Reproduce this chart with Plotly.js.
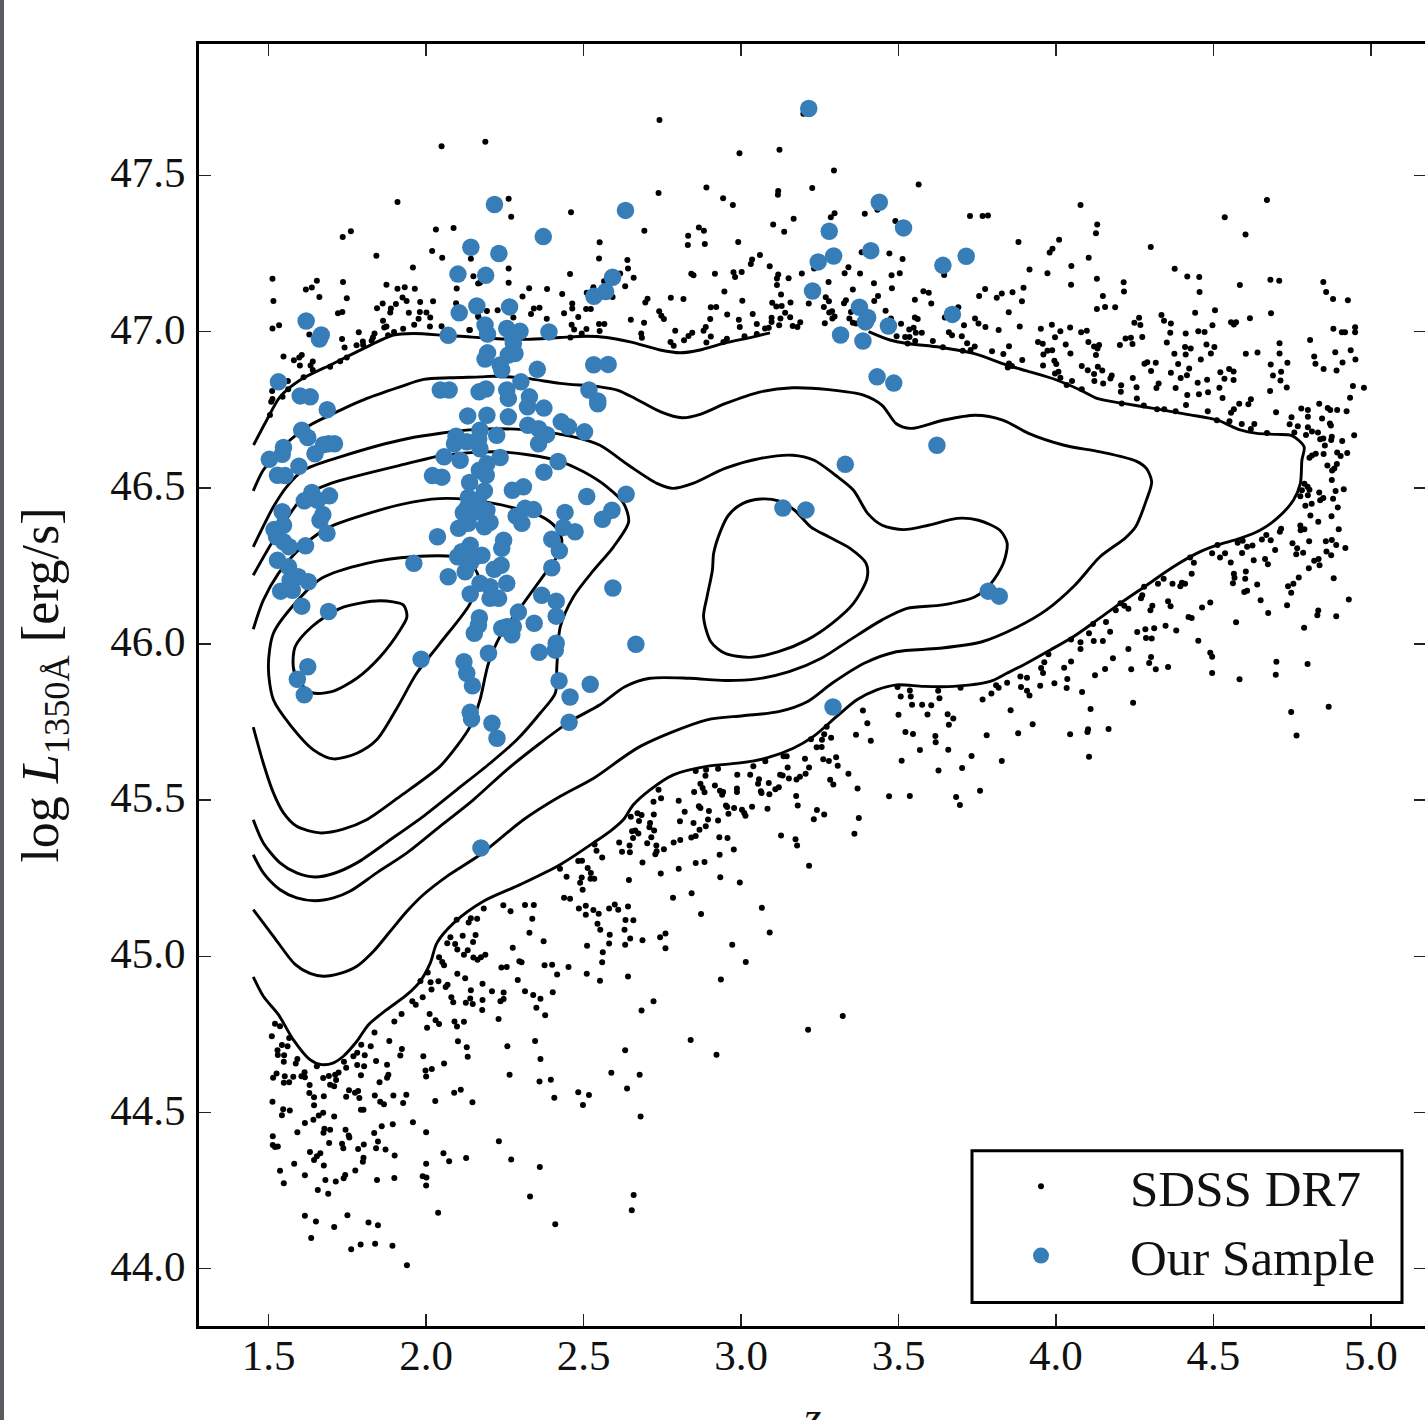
<!DOCTYPE html>
<html>
<head>
<meta charset="utf-8">
<script src="https://cdn.plot.ly/plotly-3.0.1.min.js"></script>
<style>
html,body{margin:0;padding:0;background:#fff;width:1425px;height:1420px;overflow:hidden}
#edge{position:fixed;left:0;top:0;width:4px;height:1420px;background:#585c60;z-index:5}
#chart{position:absolute;left:0;top:0}
</style>
</head>
<body>
<div id="edge"></div>
<div id="chart"></div>
<script>
const xTickValues=[1.5,2,2.5,3,3.5,4,4.5,5];
const yTickValues=[44,44.5,45,45.5,46,46.5,47,47.5];
const seriesNames=["SDSS DR7","Our Sample"];

const sdssLowLeft=[[1.520,44.784],[1.536,44.776],[1.510,44.744],[1.565,44.738],[1.542,44.716],[1.560,44.712],[1.528,44.699],[1.529,44.684],[1.549,44.683],[1.548,44.662],[1.591,44.671],[1.586,44.657],[1.653,44.648],[1.739,44.662],[1.746,44.643],[1.769,44.680],[1.781,44.691],[1.794,44.717],[1.824,44.712],[1.805,44.683],[1.781,44.652],[1.803,44.648],[1.793,44.619],[1.841,44.665],[1.876,44.653],[1.836,44.756],[1.883,44.729],[1.923,44.703],[1.918,44.682],[1.991,44.680],[2.057,44.657],[1.998,44.634],[2.018,44.639],[2.000,44.615],[1.880,44.621],[1.876,44.611],[1.852,44.597],[1.525,44.625],[1.514,44.611],[1.551,44.616],[1.548,44.595],[1.565,44.597],[1.578,44.614],[1.604,44.616],[1.614,44.629],[1.615,44.613],[1.630,44.588],[1.673,44.610],[1.691,44.617],[1.722,44.628],[1.711,44.621],[1.714,44.604],[1.695,44.589],[1.708,44.584],[1.629,44.562],[1.644,44.549],[1.675,44.552],[1.755,44.571],[1.746,44.550],[1.774,44.563],[1.784,44.569],[1.788,44.546],[1.837,44.554],[1.896,44.554],[1.937,44.557],[1.927,44.530],[1.854,44.534],[1.866,44.526],[2.029,44.537],[2.089,44.563],[2.110,44.573],[2.147,44.533],[1.512,44.534],[1.546,44.510],[1.567,44.506],[1.542,44.491],[1.644,44.523],[1.673,44.499],[1.659,44.490],[1.642,44.477],[1.615,44.466],[1.591,44.437],[1.708,44.487],[1.793,44.509],[1.801,44.509],[1.677,44.448],[1.674,44.435],[1.695,44.445],[1.744,44.445],[1.754,44.426],[1.756,44.420],[1.835,44.434],[1.859,44.456],[1.894,44.462],[1.958,44.469],[2.000,44.437],[1.513,44.424],[1.513,44.396],[1.520,44.389],[1.529,44.391],[1.692,44.402],[1.733,44.400],[1.737,44.385],[1.784,44.383],[1.802,44.397],[1.847,44.407],[1.841,44.385],[1.871,44.381],[1.900,44.362],[1.631,44.373],[1.664,44.369],[1.653,44.360],[1.644,44.348],[1.801,44.355],[1.799,44.342],[1.581,44.336],[1.675,44.330],[1.536,44.313],[1.615,44.299],[1.775,44.314],[1.743,44.300],[1.738,44.289],[1.680,44.284],[1.713,44.279],[1.548,44.273],[1.656,44.252],[1.689,44.240],[1.844,44.284],[1.899,44.290],[1.989,44.296],[2.001,44.292],[2.000,44.266],[2.000,44.336],[2.055,44.369],[2.073,44.344],[2.127,44.354],[2.231,44.408],[2.270,44.349],[2.361,44.325],[2.330,44.231],[2.410,44.142],[2.038,44.179],[2.659,44.236],[2.653,44.187],[2.681,44.487],[1.615,44.169],[1.650,44.151],[1.708,44.133],[1.750,44.171],[1.817,44.148],[1.847,44.139],[1.635,44.098],[1.762,44.062],[1.792,44.077],[1.838,44.080],[1.893,44.073],[1.939,44.011],[2.183,45.153],[2.097,45.117],[2.135,45.108],[2.142,45.122],[2.162,45.120],[2.245,45.163],[2.268,45.144],[2.314,45.164],[2.342,45.164],[2.337,45.120],[2.328,45.075],[2.373,45.048],[2.077,45.061],[2.116,45.066],[2.157,45.068],[2.149,45.046],[2.067,45.042],[2.092,45.039],[2.099,45.022],[2.132,45.019],[2.120,45.005],[2.150,44.996],[2.163,44.989],[2.174,44.997],[2.188,45.005],[2.275,45.027],[2.041,44.997],[2.051,44.982],[2.057,44.971],[2.296,44.984],[2.303,44.981],[2.239,44.964],[2.256,44.966],[2.376,44.971],[2.400,44.973],[2.416,44.942],[2.452,44.966],[2.099,44.944],[2.124,44.930],[2.005,44.948],[1.982,44.921],[2.014,44.917],[2.039,44.920],[2.068,44.909],[2.062,44.902],[2.017,44.894],[2.179,44.912],[2.291,44.924],[2.142,44.891],[2.209,44.888],[2.246,44.884],[2.314,44.888],[2.340,44.876],[2.363,44.864],[2.402,44.885],[1.989,44.869],[1.956,44.856],[1.967,44.845],[2.080,44.869],[2.086,44.853],[2.140,44.865],[2.126,44.851],[2.148,44.847],[2.179,44.860],[2.178,44.828],[2.246,44.863],[2.236,44.856],[2.350,44.835],[2.378,44.811],[2.230,44.799],[1.922,44.815],[1.899,44.791],[2.011,44.815],[2.030,44.795],[2.041,44.783],[2.003,44.771],[2.090,44.791],[2.098,44.775],[2.120,44.790],[2.101,44.728],[2.129,44.709],[2.132,44.678],[2.258,44.712],[2.346,44.729],[2.363,44.671],[2.265,44.621],[2.360,44.599],[2.396,44.605],[2.407,44.547],[2.483,44.565],[2.517,44.556],[2.498,44.524],[2.588,44.627],[2.638,44.577],[2.678,44.621],[2.632,44.699],[2.722,44.856],[2.684,44.826],[2.641,44.935],[2.552,44.922],[2.510,44.944],[2.559,44.981],[2.561,45.013],[2.511,45.034],[2.581,45.041],[2.632,45.037],[2.648,45.057],[2.687,45.051],[2.583,45.069],[2.553,45.085],[2.544,45.104],[2.630,45.085],[2.633,45.116],[2.658,45.115],[2.548,45.136],[2.507,45.133],[2.531,45.148],[2.507,45.162],[2.485,45.153],[2.581,45.153],[2.599,45.166],[2.610,45.149],[2.641,45.159]];

const sdssLowMiddle=[[2.446,45.255],[2.425,45.280],[2.483,45.305],[2.495,45.306],[2.513,45.283],[2.523,45.267],[2.494,45.252],[2.489,45.235],[2.522,45.248],[2.534,45.248],[2.497,45.213],[2.438,45.187],[2.457,45.184],[2.535,45.358],[2.541,45.338],[2.559,45.316],[2.613,45.364],[2.622,45.335],[2.646,45.355],[2.647,45.333],[2.687,45.300],[2.644,45.244],[2.650,45.447],[2.671,45.458],[2.684,45.452],[2.676,45.433],[2.654,45.400],[2.664,45.403],[2.674,45.393],[2.657,45.379],[2.711,45.427],[2.709,45.413],[2.724,45.403],[2.715,45.381],[2.702,45.362],[2.731,45.355],[2.732,45.336],[2.728,45.327],[2.755,45.343],[2.786,45.364],[2.807,45.372],[2.842,45.380],[2.856,45.385],[2.868,45.405],[2.888,45.416],[2.895,45.438],[2.849,45.427],[2.806,45.432],[2.723,45.454],[2.821,45.463],[2.802,45.498],[2.722,45.495],[2.746,45.506],[2.738,45.533],[2.851,45.526],[2.856,45.593],[2.889,45.597],[2.887,45.578],[2.927,45.600],[2.871,45.552],[2.878,45.539],[2.884,45.525],[2.917,45.547],[2.933,45.530],[2.943,45.526],[2.940,45.517],[2.988,45.581],[2.987,45.537],[2.987,45.526],[2.866,45.480],[2.871,45.475],[2.898,45.465],[2.927,45.435],[2.952,45.483],[2.956,45.478],[2.978,45.475],[2.960,45.456],[3.003,45.469],[3.010,45.459],[3.014,45.450],[3.035,45.479],[3.084,45.472],[2.931,45.381],[2.957,45.379],[2.977,45.342],[2.932,45.325],[2.884,45.302],[2.856,45.299],[2.802,45.280],[2.745,45.265],[2.934,45.253],[2.996,45.236],[2.843,45.202],[2.784,45.187],[2.873,45.135],[3.066,45.155],[3.091,45.076],[2.972,45.037],[3.015,44.982],[2.936,44.926],[2.840,44.732],[2.922,44.685],[3.213,44.765],[3.323,44.809],[3.039,45.608],[3.029,45.581],[3.057,45.567],[3.054,45.552],[3.088,45.555],[3.063,45.528],[3.065,45.523],[3.090,45.519],[3.109,45.535],[3.120,45.541],[3.077,45.624],[3.124,45.581],[3.132,45.579],[3.148,45.604],[3.152,45.569],[3.176,45.566],[3.187,45.575],[3.205,45.584],[3.216,45.604],[3.203,45.632],[3.135,45.640],[3.145,45.640],[3.175,45.513],[3.180,45.483],[3.241,45.468],[3.264,45.454],[3.231,45.439],[3.127,45.387],[3.173,45.375],[3.178,45.355],[3.216,45.290],[3.360,45.392],[3.374,45.443],[3.370,45.537],[3.341,45.584],[3.283,45.565],[3.293,45.550],[3.261,45.631],[3.279,45.625],[3.302,45.637],[3.307,45.610],[3.240,45.669],[3.256,45.670],[3.257,45.693],[3.286,45.700],[3.264,45.711],[3.222,45.695],[3.272,45.735],[3.365,45.709],[3.412,45.690],[3.401,45.746],[3.387,45.787],[3.497,45.862],[3.507,45.832],[3.536,45.851],[3.539,45.832],[3.543,45.805],[3.575,45.805],[3.604,45.804],[3.626,45.850],[3.630,45.826],[3.500,45.773],[3.592,45.774],[3.656,45.775],[3.674,45.761],[3.660,45.741],[3.522,45.718],[3.546,45.712],[3.617,45.705],[3.618,45.685],[3.568,45.660],[3.658,45.661],[3.510,45.626],[3.627,45.595],[3.732,45.641],[3.702,45.603],[3.828,45.625],[3.470,45.512],[3.536,45.513],[3.683,45.510],[3.695,45.484],[3.759,45.530],[3.780,45.708],[3.880,45.714],[3.926,45.743],[3.856,45.788],[3.767,45.822],[3.795,45.841],[3.810,45.868],[3.818,45.860],[3.845,45.876],[3.889,45.862],[3.908,45.850],[3.916,45.835],[3.697,45.860],[2.760,45.073],[2.743,45.061],[2.760,45.026]];

const sdssLowRight=[[4.789,46.513],[4.799,46.503],[4.805,46.494],[4.781,46.492],[4.776,46.473],[4.800,46.476],[4.836,46.485],[4.888,46.490],[4.914,46.495],[4.849,46.467],[4.839,46.460],[4.880,46.465],[4.792,46.442],[4.812,46.449],[4.895,46.437],[4.808,46.411],[4.833,46.391],[4.875,46.409],[4.776,46.379],[4.777,46.364],[4.789,46.367],[4.715,46.369],[4.711,46.359],[4.898,46.367],[4.668,46.349],[4.654,46.334],[4.682,46.332],[4.804,46.329],[4.857,46.329],[4.876,46.333],[4.890,46.317],[4.919,46.307],[4.751,46.322],[4.766,46.306],[4.763,46.287],[4.785,46.292],[4.696,46.301],[4.859,46.296],[4.874,46.284],[4.834,46.272],[4.820,46.266],[4.837,46.252],[4.803,46.242],[4.771,46.213],[4.882,46.210],[4.754,46.193],[4.737,46.185],[4.747,46.164],[4.734,46.124],[4.930,46.142],[4.833,46.107],[4.830,46.092],[4.890,46.089],[4.788,46.052],[4.700,45.943],[4.799,45.936],[4.698,45.901],[4.866,45.799],[4.747,45.782],[4.764,45.707],[4.583,45.887],[4.496,45.907],[4.496,45.959],[4.490,45.972],[4.572,46.069],[4.674,46.099],[4.650,46.140],[4.639,46.190],[4.598,46.166],[4.607,46.170],[4.562,46.194],[4.567,46.212],[4.565,46.225],[4.603,46.232],[4.601,46.209],[4.555,46.261],[4.628,46.268],[4.664,46.272],[4.673,46.255],[4.591,46.291],[4.607,46.311],[4.624,46.315],[4.577,46.324],[4.593,46.330],[4.537,46.290],[4.521,46.277],[4.496,46.290],[4.513,46.317],[4.438,46.260],[4.426,46.277],[4.431,46.225],[4.410,46.193],[4.400,46.196],[4.395,46.185],[4.370,46.193],[4.342,46.209],[4.324,46.193],[4.280,46.183],[4.274,46.156],[4.270,46.146],[4.356,46.137],[4.364,46.121],[4.306,46.122],[4.300,46.108],[4.490,46.133],[4.464,46.117],[4.421,46.086],[4.431,46.083],[4.382,46.043],[4.348,46.058],[4.312,46.050],[4.284,46.047],[4.258,46.038],[4.286,46.019],[4.304,46.017],[4.452,46.010],[4.230,45.984],[4.302,45.958],[4.296,45.939],[4.317,45.919],[4.356,45.926],[4.239,45.919],[4.205,46.130],[4.190,46.108],[4.217,46.122],[4.230,46.113],[4.159,46.070],[4.172,46.039],[4.118,46.064],[4.105,46.034],[4.048,46.014],[4.078,46.005],[4.120,46.009],[4.149,46.009],[4.078,45.984],[4.181,45.954],[4.156,45.920],[4.124,45.900],[4.048,45.944],[4.026,45.924],[3.976,45.967],[3.963,45.941],[3.953,45.923],[3.959,45.907],[3.887,45.896],[3.908,45.892],[4.036,45.888],[4.034,45.859],[3.995,45.874],[3.950,45.866],[4.083,45.846],[4.110,45.792],[4.245,45.812],[4.045,45.711],[4.100,45.718],[4.102,45.727],[4.167,45.728],[4.105,45.639]];

const sdssHighRight=[[4.670,47.421],[4.536,47.366],[4.602,47.311],[4.078,47.405],[4.131,47.343],[4.127,47.315],[4.010,47.294],[3.989,47.265],[3.980,47.253],[3.881,47.287],[3.727,47.370],[3.767,47.370],[3.784,47.372],[4.301,47.271],[4.104,47.236],[4.049,47.210],[3.916,47.199],[3.973,47.187],[3.645,47.181],[4.130,47.169],[4.048,47.150],[4.215,47.158],[4.216,47.128],[4.149,47.114],[4.377,47.201],[4.417,47.176],[4.455,47.175],[4.456,47.127],[4.584,47.149],[4.681,47.166],[4.709,47.163],[4.849,47.159],[4.858,47.127],[4.880,47.104],[4.927,47.100],[3.775,47.136],[3.756,47.114],[3.828,47.122],[3.812,47.108],[3.862,47.126],[3.897,47.140],[3.892,47.097],[3.850,47.062],[3.690,47.078],[3.647,47.045],[3.743,47.042],[3.754,47.026],[3.776,47.015],[3.708,47.020],[3.818,47.005],[3.885,47.016],[3.660,46.998],[3.670,46.988],[3.701,46.985],[3.718,46.963],[3.742,46.952],[3.641,46.950],[3.704,46.939],[3.729,46.941],[3.797,46.937],[3.833,46.928],[3.851,46.953],[3.893,46.909],[3.851,46.898],[3.860,46.890],[3.847,46.885],[3.952,47.009],[3.987,47.022],[4.014,47.001],[4.045,47.013],[3.997,46.982],[4.080,46.998],[4.098,47.003],[3.943,46.967],[3.958,46.961],[4.031,46.959],[4.103,46.967],[4.121,46.952],[4.137,46.957],[4.132,46.946],[4.046,46.930],[3.988,46.940],[3.973,46.939],[3.960,46.927],[4.127,46.925],[4.130,47.072],[4.156,47.079],[4.188,47.078],[4.203,46.957],[4.221,46.978],[4.238,46.980],[4.243,46.960],[4.274,46.983],[4.249,47.028],[4.268,47.021],[4.264,47.044],[4.335,47.053],[4.343,47.035],[4.365,47.026],[4.363,46.996],[4.352,46.965],[4.412,46.994],[4.452,47.001],[4.472,46.999],[4.442,47.060],[4.505,47.068],[4.497,47.020],[4.556,47.030],[4.565,47.023],[4.572,47.030],[4.616,47.043],[4.683,47.059],[4.881,47.009],[4.908,46.998],[4.918,46.998],[4.950,47.014],[4.950,46.998],[4.807,46.973],[4.710,46.963],[4.710,46.930],[4.640,46.933],[4.603,46.929],[4.478,46.959],[4.503,46.951],[4.410,46.951],[4.428,46.946],[4.412,46.927],[4.376,46.929],[4.492,46.930],[4.460,46.911],[4.388,46.896],[4.317,46.900],[4.290,46.902],[4.281,46.897],[4.302,46.874],[4.365,46.868],[4.423,46.882],[4.416,46.860],[4.396,46.851],[4.480,46.846],[4.450,46.836],[4.522,46.870],[4.550,46.880],[4.564,46.872],[4.535,46.849],[4.564,46.845],[4.519,46.820],[4.483,46.806],[4.454,46.799],[4.417,46.797],[4.380,46.819],[4.326,46.834],[4.319,46.819],[4.256,46.822],[4.244,46.851],[4.207,46.828],[4.206,46.807],[4.257,46.786],[4.209,46.770],[4.279,46.763],[4.321,46.751],[4.344,46.751],[4.380,46.745],[4.413,46.765],[4.529,46.787],[4.482,46.745],[4.511,46.716],[4.551,46.713],[4.556,46.740],[4.565,46.751],[4.582,46.769],[4.611,46.767],[4.619,46.783],[4.590,46.704],[4.630,46.704],[4.619,46.688],[4.670,46.675],[4.699,46.742],[4.680,46.810],[4.733,46.821],[4.713,46.843],[4.689,46.859],[4.715,46.871],[4.682,46.895],[4.735,46.900],[4.824,46.897],[4.820,46.920],[4.850,46.880],[4.891,46.875],[4.910,46.901],[4.951,46.911],[4.936,46.940],[4.887,46.934],[4.943,46.826],[4.978,46.820],[4.934,46.788],[4.836,46.769],[4.779,46.754],[4.800,46.749],[4.863,46.755],[4.871,46.749],[4.893,46.749],[4.923,46.745],[4.748,46.726],[4.800,46.727],[4.845,46.722],[4.742,46.703],[4.768,46.697],[4.800,46.694],[4.870,46.706],[4.873,46.699],[4.757,46.677],[4.794,46.669],[4.813,46.680],[4.832,46.677],[4.849,46.658],[4.839,46.655],[4.876,46.663],[4.874,46.653],[4.909,46.650],[4.947,46.668],[4.854,46.635],[4.805,46.596],[4.813,46.603],[4.825,46.609],[4.850,46.608],[4.893,46.613],[4.904,46.602],[4.925,46.611],[4.862,46.571],[4.892,46.576],[4.884,46.562],[4.877,46.555],[4.876,46.525],[4.121,46.864],[4.122,46.842],[4.150,46.834],[4.177,46.859],[4.173,46.850],[4.147,46.875],[4.133,46.887],[4.101,46.876],[4.082,46.890],[4.082,46.815],[4.051,46.842],[4.034,46.829],[4.014,46.852],[4.008,46.871],[3.997,46.866],[4.001,46.896],[3.995,46.907],[3.959,46.891]];

const sdssHighMiddle=[[2.741,47.677],[2.188,47.608],[2.995,47.571],[3.122,47.582],[3.198,47.697],[3.295,47.516],[3.564,47.471],[2.262,47.425],[2.270,47.368],[2.460,47.382],[2.738,47.444],[2.890,47.461],[2.943,47.427],[2.974,47.405],[3.118,47.450],[3.117,47.438],[3.226,47.460],[2.693,47.323],[2.832,47.307],[2.866,47.333],[2.882,47.323],[2.831,47.277],[2.885,47.280],[2.991,47.287],[3.102,47.343],[3.137,47.320],[3.167,47.361],[3.297,47.379],[3.285,47.366],[3.393,47.377],[3.433,47.390],[3.490,47.354],[2.551,47.286],[2.549,47.234],[2.639,47.229],[2.641,47.202],[2.659,47.172],[2.632,47.145],[2.142,47.233],[2.262,47.202],[2.457,47.184],[2.262,47.156],[2.150,47.177],[2.171,47.156],[2.327,47.139],[2.384,47.136],[2.306,47.112],[2.432,47.120],[2.531,47.142],[2.565,47.161],[2.616,47.186],[2.592,47.111],[2.849,47.180],[2.842,47.185],[2.917,47.185],[2.976,47.190],[2.981,47.175],[3.002,47.191],[3.031,47.216],[3.035,47.231],[3.060,47.245],[3.091,47.209],[3.118,47.183],[3.114,47.170],[3.114,47.149],[3.151,47.171],[3.193,47.186],[3.127,47.119],[2.947,47.128],[3.232,47.202],[3.278,47.159],[3.341,47.206],[3.329,47.187],[3.378,47.186],[3.383,47.254],[3.471,47.250],[3.513,47.232],[3.504,47.187],[3.478,47.180],[3.422,47.155],[3.479,47.139],[3.355,47.135],[3.579,47.129],[3.596,47.124],[3.435,47.114],[3.552,47.102],[3.604,47.090],[3.423,47.098],[3.269,47.110],[3.279,47.097],[3.333,47.100],[3.327,47.091],[3.215,47.090],[3.099,47.092],[3.112,47.080],[3.129,47.082],[3.157,47.093],[3.004,47.099],[2.904,47.078],[2.921,47.079],[2.777,47.108],[2.817,47.104],[2.703,47.105],[2.696,47.093],[2.740,47.065],[2.747,47.051],[2.755,47.040],[2.650,47.038],[2.692,47.028],[2.683,46.994],[2.685,46.980],[2.791,47.003],[2.902,47.040],[2.956,47.055],[2.993,47.038],[3.037,47.056],[2.996,47.015],[2.888,47.015],[2.881,47.003],[2.845,46.996],[2.833,46.986],[2.819,46.972],[2.776,46.967],[2.786,46.955],[2.904,46.984],[2.890,46.965],[2.955,46.977],[2.944,46.967],[3.011,46.985],[3.050,46.992],[3.076,47.010],[3.088,47.012],[3.050,47.024],[3.097,47.044],[3.097,47.031],[3.125,47.042],[3.140,47.060],[3.121,47.020],[3.156,47.046],[3.164,47.018],[3.179,47.015],[3.188,47.030],[3.263,47.079],[3.280,47.061],[3.289,47.065],[3.297,47.048],[3.290,47.042],[3.266,47.027],[3.344,47.042],[3.355,47.028],[3.365,47.026],[3.349,47.063],[3.459,47.067],[3.476,47.042],[3.508,47.025],[3.552,47.045],[3.561,47.040],[3.534,47.007],[3.548,47.012],[3.555,46.996],[3.574,46.996],[3.494,46.985],[3.521,46.983],[3.535,46.983],[3.529,46.962],[3.553,46.970],[3.609,46.970],[2.494,46.994],[2.470,47.007],[2.462,47.022],[2.509,47.008],[2.551,47.002],[2.549,47.024],[2.566,47.024],[2.383,47.041],[2.483,47.047],[2.438,47.059],[2.464,47.090],[2.464,47.074],[2.508,47.072],[2.523,47.072],[2.360,47.076],[2.342,47.074],[2.333,47.056],[2.277,47.045],[2.227,47.068],[2.193,47.066],[2.166,47.047],[2.137,47.005],[2.458,46.981],[2.510,47.124]];

const sdssHighLeft=[[2.049,47.593],[1.909,47.415],[1.761,47.321],[1.735,47.303],[2.031,47.327],[2.087,47.332],[2.019,47.258],[1.842,47.243],[2.051,47.236],[1.958,47.205],[1.512,47.169],[1.653,47.163],[1.637,47.141],[1.618,47.135],[1.736,47.159],[1.661,47.111],[1.748,47.107],[1.515,47.098],[1.874,47.150],[1.909,47.137],[1.932,47.142],[1.964,47.137],[2.097,47.138],[1.925,47.109],[1.938,47.098],[1.904,47.088],[1.862,47.090],[1.844,47.075],[1.888,47.074],[1.886,47.061],[1.981,47.095],[2.022,47.097],[2.095,47.091],[1.945,47.060],[1.980,47.063],[2.001,47.061],[2.013,47.045],[1.976,47.041],[1.720,47.059],[1.734,47.063],[1.863,47.035],[1.962,47.022],[2.012,47.016],[2.049,47.017],[1.874,47.016],[1.867,47.013],[1.927,47.009],[1.898,46.999],[1.879,46.988],[2.139,47.005],[1.512,47.010],[1.533,47.020],[1.629,46.991],[1.786,46.998],[1.836,46.994],[1.733,46.976],[1.831,46.981],[1.827,46.971],[1.799,46.968],[1.779,46.956],[1.800,46.957],[1.741,46.949],[1.547,46.920],[1.605,46.925],[1.597,46.917],[1.580,46.908],[1.599,46.891],[1.640,46.904],[1.633,46.891],[1.640,46.877],[1.748,46.917],[1.727,46.905],[1.695,46.887],[1.611,46.854],[1.561,46.842],[1.511,46.810],[1.562,46.815],[1.544,46.791],[1.512,46.784],[1.508,46.775],[1.504,46.733],[2.165,47.050],[2.165,47.154]];

const sampleCentral=[[1.686,46.750],[1.605,46.684],[1.624,46.661],[1.547,46.629],[1.543,46.607],[1.502,46.591],[1.596,46.569],[1.647,46.609],[1.674,46.638],[1.690,46.641],[1.709,46.641],[1.528,46.540],[1.552,46.539],[1.637,46.485],[1.613,46.458],[1.655,46.460],[1.693,46.474],[1.672,46.414],[1.663,46.396],[1.685,46.354],[1.543,46.423],[1.547,46.380],[1.517,46.366],[1.525,46.343],[1.547,46.327],[1.565,46.311],[1.617,46.314],[1.528,46.268],[1.563,46.247],[1.594,46.215],[1.626,46.199],[1.568,46.204],[1.538,46.169],[1.575,46.172],[1.605,46.121],[1.690,46.104],[1.624,45.927],[1.591,45.887],[1.613,45.837],[1.961,46.258],[1.984,45.951],[2.036,46.343],[2.070,46.215],[2.132,46.730],[2.193,46.732],[2.261,46.727],[2.322,46.759],[2.374,46.755],[2.323,46.700],[2.429,46.711],[2.452,46.695],[2.545,46.769],[2.503,46.679],[2.095,46.665],[2.090,46.641],[2.129,46.647],[2.171,46.684],[2.167,46.657],[2.171,46.625],[2.224,46.668],[2.057,46.599],[2.108,46.588],[2.235,46.597],[2.193,46.577],[2.169,46.556],[2.191,46.540],[2.020,46.539],[2.050,46.534],[2.138,46.517],[2.185,46.490],[2.134,46.469],[2.166,46.460],[2.129,46.434],[2.193,46.428],[2.118,46.420],[2.161,46.423],[2.103,46.370],[2.134,46.386],[2.203,46.389],[2.185,46.375],[2.357,46.689],[2.383,46.670],[2.357,46.641],[2.419,46.584],[2.374,46.550],[2.274,46.492],[2.309,46.503],[2.510,46.472],[2.635,46.479],[2.590,46.428],[2.560,46.399],[2.441,46.421],[2.473,46.359],[2.436,46.373],[2.399,46.335],[2.423,46.298],[2.399,46.244],[2.314,46.434],[2.341,46.430],[2.286,46.409],[2.304,46.386],[2.246,46.332],[2.240,46.306],[2.238,46.252],[2.216,46.239],[2.100,46.279],[2.140,46.316],[2.113,46.295],[2.177,46.284],[2.156,46.279],[2.140,46.258],[2.124,46.231],[2.256,46.194],[2.171,46.194],[2.203,46.183],[2.140,46.160],[2.203,46.146],[2.230,46.146],[2.169,46.084],[2.166,46.060],[2.153,46.034],[2.367,46.156],[2.413,46.137],[2.413,46.089],[2.293,46.102],[2.343,46.066],[2.240,46.050],[2.256,46.055],[2.277,46.055],[2.272,46.029],[2.593,46.179],[2.666,45.999],[2.198,45.970],[2.359,45.973],[2.410,45.980],[2.413,46.002],[2.120,45.943],[2.129,45.906],[2.147,45.866],[2.422,45.882],[2.521,45.871],[2.457,45.830],[2.140,45.781],[2.144,45.760],[2.209,45.746],[2.225,45.698],[2.454,45.749]];

const sampleUpper=[[1.619,47.034],[1.667,46.989],[1.661,46.976],[1.531,46.839],[1.600,46.794],[1.632,46.791],[2.045,46.813],[2.073,46.813],[2.070,46.988],[2.105,47.060],[2.101,47.184],[2.142,47.270],[2.161,47.082],[3.215,47.714],[2.217,47.407],[2.633,47.388],[2.372,47.304],[2.231,47.250],[3.439,47.414],[3.516,47.332],[3.280,47.321],[3.294,47.242],[3.245,47.223],[3.412,47.259],[3.641,47.212],[3.227,47.130],[2.592,47.174],[2.570,47.128],[2.533,47.113],[2.189,47.180],[2.265,47.079],[2.187,47.021],[2.195,46.992],[2.256,47.010],[2.298,47.001],[2.390,46.999],[2.275,46.978],[2.277,46.962],[2.195,46.932],[2.187,46.912],[2.261,46.925],[2.282,46.930],[2.235,46.893],[2.240,46.877],[2.353,46.879],[2.532,46.894],[2.578,46.895],[2.301,46.839],[2.190,46.816],[2.168,46.807],[2.256,46.813],[2.261,46.786],[2.328,46.791],[2.517,46.813],[2.545,46.778],[3.316,46.989],[3.387,46.970],[3.376,47.078],[3.402,47.045],[3.395,47.031],[3.468,47.018],[3.432,46.855],[3.485,46.835],[3.622,46.636],[3.331,46.575]];

const sampleOutlying=[[3.133,46.435],[3.206,46.429],[3.785,46.169],[3.820,46.153],[3.292,45.798],[2.174,45.347],[3.671,47.055],[3.715,47.241]];

const contourOutermost=[[1.451,44.934],[1.483,44.872],[1.531,44.813],[1.578,44.733],[1.631,44.669],[1.668,44.653],[1.706,44.659],[1.737,44.680],[1.780,44.728],[1.817,44.781],[1.875,44.829],[1.939,44.877],[1.981,44.920],[2.013,44.978],[2.034,45.042],[2.087,45.106],[2.182,45.176],[2.30,45.23],[2.425,45.293],[2.531,45.363],[2.584,45.400],[2.626,45.437],[2.658,45.485],[2.711,45.533],[2.785,45.581],[2.891,45.608],[2.997,45.619],[3.082,45.635],[3.166,45.666],[3.230,45.704],[3.304,45.768],[3.368,45.821],[3.431,45.853],[3.495,45.869],[3.579,45.864],[3.675,45.864],[3.791,45.880],[3.844,45.906],[3.907,45.938],[3.981,45.980],[4.055,46.023],[4.130,46.076],[4.204,46.130],[4.288,46.188],[4.373,46.247],[4.447,46.290],[4.511,46.316],[4.585,46.338],[4.648,46.364],[4.701,46.401],[4.754,46.460],[4.776,46.513],[4.781,46.588],[4.788,46.631],[4.749,46.667],[4.701,46.671],[4.638,46.674],[4.585,46.685],[4.511,46.717],[4.416,46.735],[4.310,46.754],[4.214,46.770],[4.130,46.786],[4.077,46.813],[4.002,46.845],[3.907,46.874],[3.844,46.893],[3.738,46.930],[3.632,46.950],[3.527,46.962],[3.473,46.973],[3.405,47.000],[null,null],[3.092,46.996],[3.039,46.983],[2.944,46.962],[2.870,46.941],[2.806,46.932],[2.743,46.941],[2.648,46.967],[2.573,46.981],[2.510,46.985],[2.425,46.981],[2.319,46.975],[2.213,46.978],[2.108,46.985],[2.066,46.987],[1.960,46.994],[1.896,46.989],[1.812,46.951],[1.706,46.898],[1.600,46.845],[1.536,46.791],[1.494,46.717],[1.452,46.637]];

const contourSecond=[[1.451,45.149],[1.515,45.064],[1.584,44.974],[1.631,44.945],[1.674,44.936],[1.727,44.945],[1.780,44.968],[1.833,45.016],[1.886,45.080],[1.939,45.144],[1.991,45.197],[2.066,45.256],[2.171,45.325],[2.309,45.437],[2.426,45.512],[2.532,45.570],[2.680,45.672],[2.892,45.757],[3.006,45.770],[3.119,45.783],[3.210,45.815],[3.289,45.874],[3.391,45.938],[3.493,45.975],[3.629,45.986],[3.765,46.007],[3.879,46.055],[3.970,46.109],[4.060,46.188],[4.140,46.279],[4.219,46.338],[4.253,46.375],[4.287,46.460],[4.304,46.519],[4.287,46.562],[4.253,46.586],[4.140,46.615],[4.026,46.636],[3.913,46.674],[3.833,46.716],[3.743,46.732],[3.641,46.716],[3.539,46.690],[3.493,46.705],[3.448,46.764],[3.391,46.796],[3.278,46.814],[3.164,46.820],[3.062,46.807],[2.949,46.769],[2.870,46.735],[2.813,46.724],[2.745,46.743],[2.665,46.785],[2.609,46.812],[2.552,46.823],[2.425,46.834],[2.319,46.850],[2.213,46.857],[2.172,46.855],[2.076,46.852],[1.992,46.847],[1.917,46.823],[1.812,46.786],[1.706,46.738],[1.632,46.701],[1.568,46.653],[1.526,46.605],[1.483,46.557],[1.451,46.490]];

const contourThird=[[1.451,45.325],[1.483,45.267],[1.536,45.213],[1.589,45.187],[1.647,45.178],[1.706,45.187],[1.758,45.208],[1.843,45.267],[1.939,45.331],[2.044,45.416],[2.150,45.501],[2.256,45.597],[2.362,45.682],[2.457,45.752],[2.552,45.805],[2.631,45.863],[2.711,45.890],[2.836,45.890],[2.949,45.883],[3.051,45.888],[3.153,45.911],[3.255,45.954],[3.346,46.013],[3.448,46.077],[3.527,46.114],[3.641,46.125],[3.743,46.151],[3.794,46.194],[3.833,46.258],[3.845,46.322],[3.822,46.364],[3.754,46.396],[3.686,46.402],[3.595,46.380],[3.516,46.366],[3.448,46.380],[3.402,46.418],[3.357,46.492],[3.300,46.540],[3.232,46.588],[3.164,46.604],[3.062,46.594],[2.949,46.562],[2.847,46.514],[2.784,46.498],[2.733,46.514],[2.643,46.572],[2.552,46.636],[2.468,46.663],[2.309,46.686],[2.150,46.686],[1.939,46.657],[1.727,46.599],[1.610,46.556],[1.557,46.503],[1.515,46.439],[1.451,46.311]];

const contourFourth=[[1.451,45.437],[1.483,45.363],[1.536,45.299],[1.589,45.267],[1.647,45.254],[1.706,45.265],[1.780,45.299],[1.886,45.373],[1.991,45.448],[2.097,45.533],[2.203,45.618],[2.288,45.693],[2.362,45.778],[2.410,45.842],[2.415,45.927],[2.426,46.055],[2.468,46.151],[2.532,46.236],[2.595,46.311],[2.643,46.391],[2.627,46.450],[2.574,46.503],[2.500,46.551],[2.415,46.588],[2.235,46.615],[2.055,46.604],[1.939,46.577],[1.695,46.513],[1.610,46.471],[1.515,46.332],[1.451,46.220]];

const contourFifth=[[1.451,45.734],[1.483,45.618],[1.515,45.523],[1.547,45.459],[1.589,45.416],[1.663,45.395],[1.737,45.407],[1.811,45.437],[1.917,45.512],[2.044,45.608],[2.097,45.672],[2.140,45.736],[2.171,45.821],[2.198,45.938],[2.240,46.034],[2.309,46.130],[2.378,46.226],[2.415,46.279],[2.431,46.332],[2.410,46.375],[2.362,46.410],[2.214,46.450],[2.066,46.466],[1.960,46.455],[1.833,46.423],[1.684,46.370],[1.589,46.295],[1.531,46.226],[1.483,46.140],[1.451,46.047]];

const contourSixth=[[1.499,45.927],[1.515,46.034],[1.584,46.130],[1.668,46.210],[1.811,46.258],[1.960,46.279],[2.087,46.279],[2.140,46.258],[2.166,46.215],[2.140,46.130],[2.044,46.002],[1.970,45.906],[1.907,45.794],[1.843,45.693],[1.780,45.650],[1.706,45.632],[1.642,45.661],[1.568,45.741],[1.515,45.821],[1.499,45.927]];

const contourInnerLeft=[[1.939,46.087],[1.928,46.124],[1.854,46.138],[1.727,46.114],[1.637,46.055],[1.584,45.991],[1.578,45.927],[1.591,45.887],[1.637,45.844],[1.700,45.847],[1.780,45.890],[1.854,45.959],[1.917,46.044],[1.939,46.087]];

const contourInnerRight=[[2.909,46.236],[2.892,46.151],[2.881,46.087],[2.904,46.007],[2.949,45.970],[3.028,45.957],[3.119,45.975],[3.210,46.013],[3.289,46.066],[3.357,46.130],[3.400,46.210],[3.397,46.258],[3.346,46.306],[3.278,46.343],[3.221,46.375],[3.170,46.428],[3.119,46.458],[3.062,46.464],[3.006,46.450],[2.960,46.412],[2.932,46.354],[2.913,46.290],[2.909,46.236]];

const FONT='"Liberation Serif","DejaVu Serif",serif';
const sdss=[...sdssLowLeft,...sdssLowMiddle,...sdssLowRight,...sdssHighRight,...sdssHighMiddle,...sdssHighLeft];
const sample=[...sampleCentral,...sampleUpper,...sampleOutlying];
const contours=[contourOutermost,contourSecond,contourThird,contourFourth,contourFifth,contourSixth,contourInnerLeft,contourInnerRight];

const traces=contours.map(c=>({
  x:c.map(p=>p[0]),y:c.map(p=>p[1]),mode:'lines',type:'scatter',showlegend:false,hoverinfo:'skip',
  connectgaps:false,line:{color:'#000',width:2.9,shape:'spline',smoothing:0.8}
}));
traces.push({x:sdss.map(p=>p[0]),y:sdss.map(p=>p[1]),mode:'markers',type:'scatter',name:seriesNames[0],legendgroup:'a',
  marker:{color:'#000',size:6,line:{width:0}}});
traces.push({x:sample.map(p=>p[0]),y:sample.map(p=>p[1]),mode:'markers',type:'scatter',name:seriesNames[1],legendgroup:'b',
  marker:{color:'#377eb8',size:17.5,line:{width:0}}});

const W=1500,H=1480,L=199,R=1426,T=43.5,B=1326.5;
const pad={l:L,r:W-R,t:T,b:H-B};
const px=v=>(v-L)/(R-L), py=v=>(B-v)/(B-T);
const axisCommon={showgrid:false,zeroline:false,showline:true,linecolor:'#000',linewidth:3,mirror:'ticks',
  ticks:'inside',ticklen:12,tickwidth:1.5,tickcolor:'#222',tickfont:{family:FONT,size:43,color:'#111'},tickformat:'.1f'};
const layout={
  width:W,height:H,margin:pad,paper_bgcolor:'#fff',plot_bgcolor:'#fff',showlegend:true,
  xaxis:Object.assign({},axisCommon,{range:[1.2787,5.1751],tickmode:'array',tickvals:xTickValues,
    ticktext:xTickValues.map(v=>v.toFixed(1)),ticklabelstandoff:-11,
    title:{text:'<i>z</i>',font:{family:FONT,size:46,color:'#111'},standoff:24}}),
  yaxis:Object.assign({},axisCommon,{range:[43.8163,47.9207],tickmode:'array',tickvals:yTickValues,
    ticktext:yTickValues.map(v=>v.toFixed(1)),ticklabelstandoff:2,ticklabelshift:-3,
    title:{text:'log <i>L</i><sub>1350Å</sub> [erg/s]',font:{family:FONT,size:52,color:'#111'},standoff:35}}),
  shapes:[{type:'rect',xref:'paper',yref:'paper',x0:px(972),x1:px(1402),y0:py(1303),y1:py(1151),
    line:{color:'#000',width:3},fillcolor:'#fff',layer:'above'}],
  legend:{x:px(952),y:py(1147),xanchor:'left',yanchor:'top',bgcolor:'rgba(0,0,0,0)',borderwidth:0,
    font:{family:FONT,size:51,color:'#111'},itemwidth:168,traceorder:'grouped',tracegroupgap:0,
    itemclick:false,itemdoubleclick:false}
};
Plotly.newPlot('chart',traces,layout,{staticPlot:true,displayModeBar:false});
</script>
</body>
</html>
